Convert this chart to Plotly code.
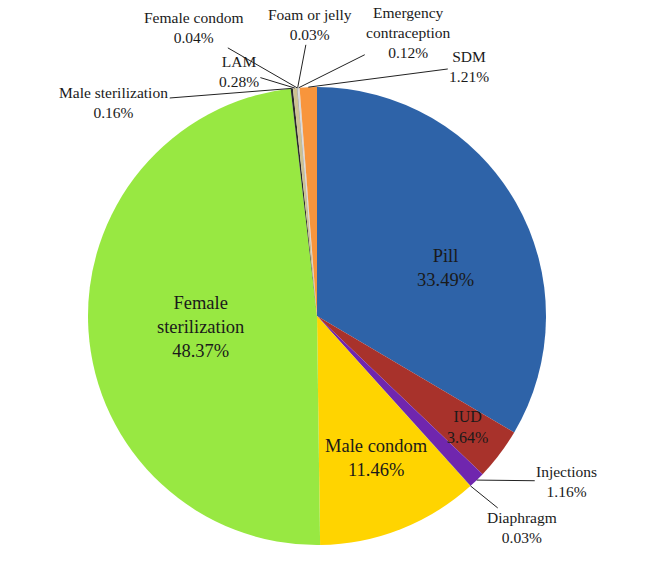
import math
import plotly.graph_objects as go

# contraceptive method mix (%), clockwise from 12 o'clock
methods = ['Pill', 'IUD', 'Injections', 'Diaphragm', 'Male condom',
           'Female sterilization', 'Male sterilization', 'LAM',
           'Female condom', 'Foam or jelly', 'Emergency contraception', 'SDM']
shares = [33.49, 3.64, 1.16, 0.03, 11.46, 48.37, 0.16, 0.28, 0.04, 0.03, 0.12, 1.21]
colors = ['#2E63A8', '#A8322B', '#7026AE', '#3b2a6e', '#FFD400', '#98E842',
          '#2a2a2a', '#CDC291', '#8a8a8a', '#bdbdbd', '#d8d8d8', '#F8953C']

# labels inside the pie: (fraction of radius, angle shift from slice middle in deg, font size)
inside = {'Pill': (0.60, 9.3, 18.5), 'IUD': (0.818, -0.8, 16),
          'Male condom': (0.672, -1.3, 18.5),
          'Female sterilization': (0.513, -1.7, 18.5)}
inside_text = {'Female sterilization': 'Female<br>sterilization'}

# outside labels: pixel offset of the text block from the slice edge
outside = {
    'Male sterilization': (-178, 14),
    'LAM': (-56, -17),
    'Female condom': (-104, -60),
    'Foam or jelly': (12, -63),
    'Emergency contraception': (110, -55),
    'SDM': (161, -21),
    'Injections': (90, 1),
    'Diaphragm': (52, 42),
}
outside_text = {'Emergency contraception': 'Emergency<br>contraception'}

SERIF = 'Liberation Serif, Times New Roman, serif'
W, H = 669, 586
CX, CY, R = 317, 316, 229  # pie centre and radius in pixels

fig = go.Figure(go.Pie(
    labels=methods, values=shares, sort=False, direction='clockwise',
    rotation=0, textinfo='none', hoverinfo='label+percent',
    marker=dict(colors=colors, line=dict(width=0)),
    domain=dict(x=[(CX - R) / W, (CX + R) / W],
                y=[(H - CY - R) / H, (H - CY + R) / H]),
))

total = sum(shares)
annotations = []
cum = 0
for name, v in zip(methods, shares):
    mid = (cum + v / 2) / total * 2 * math.pi
    cum += v
    pct = f'{v:.2f}%'
    if name in inside:
        frac, shift, size = inside[name]
        a = mid + math.radians(shift)
        px_ = CX + frac * R * math.sin(a)
        py_ = CY - frac * R * math.cos(a)
        annotations.append(dict(
            x=px_ / W, y=1 - py_ / H, xref='paper', yref='paper',
            xanchor='center', yanchor='middle',
            text=f"{inside_text.get(name, name)}<br>{pct}", showarrow=False,
            font=dict(size=size, color='#1a1a1a', family=SERIF)))
    elif name in outside:
        ax, ay = outside[name]
        px_ = CX + R * math.sin(mid)
        py_ = CY - R * math.cos(mid)
        annotations.append(dict(
            x=px_ / W, y=1 - py_ / H, xref='paper', yref='paper',
            text=f"{outside_text.get(name, name)}<br>{pct}",
            showarrow=True, arrowhead=0, arrowwidth=1, arrowcolor='#222',
            ax=ax, ay=ay, standoff=0,
            font=dict(size=15.5, color='#1a1a1a', family=SERIF)))

fig.update_layout(
    width=W, height=H, showlegend=False,
    margin=dict(l=0, r=0, t=0, b=0),
    paper_bgcolor='white', plot_bgcolor='white',
    font=dict(family=SERIF),
    annotations=annotations,
)

# drop the browser's default 8px body margin so the chart sits at the page corner
fig.write_html("out.html", config={'displayModeBar': False},
               post_script="document.body.style.margin='0';")
